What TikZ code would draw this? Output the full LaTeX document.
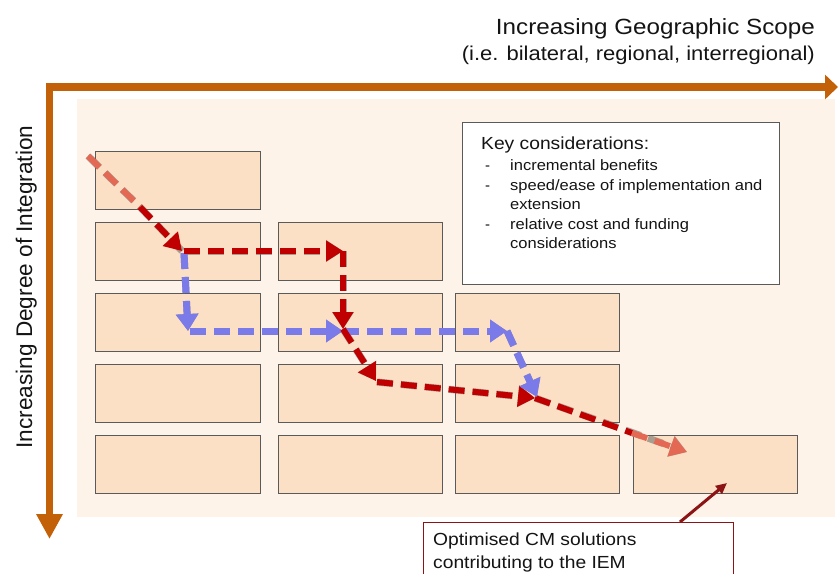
\documentclass[tikz,border=0pt]{standalone}
\usepackage{fontspec}
\usepackage{graphicx}
\setmainfont{Liberation Sans}
\usetikzlibrary{arrows.meta}
\definecolor{axisor}{RGB}{194,97,8}
\definecolor{bgpeach}{RGB}{253,243,232}
\definecolor{cellfill}{RGB}{252,224,197}
\definecolor{cellline}{RGB}{90,90,90}
\definecolor{pathred}{RGB}{192,0,0}
\definecolor{pathsalmon}{RGB}{228,105,85}
\definecolor{pathblue}{RGB}{122,122,232}
\definecolor{ptred}{RGB}{140,20,20}
\newcommand{\sx}[1]{\scalebox{1.1}[1]{#1}}
\tikzset{
  cell/.style={draw=cellline, fill=cellfill, line width=1pt, minimum width=164pt, minimum height=58pt, inner sep=0pt, anchor=north west},
  axisline/.style={draw=axisor, line width=7.5pt, line join=miter},
  dashseg/.style={line width=6pt, dash pattern=on 16pt off 8pt},
  redseg/.style={dashseg, draw=pathred, -{Triangle[length=17pt,width=20pt]}},
  salseg/.style={dashseg, draw=pathsalmon},
  blueseg/.style={dashseg, line width=7pt, draw=pathblue, -{Triangle[length=17pt,width=22pt]}},
  shadowseg/.style={dashseg, line width=7pt, draw=black!60, opacity=0.55, shift={(2,3)}, -{Triangle[length=17pt,width=21pt]}},
  shadowplain/.style={dashseg, line width=7pt, draw=black!60, opacity=0.55, shift={(2,3)}},
  keytxt/.style={anchor=base west, inner sep=0pt, font=\fontsize{15}{18}\selectfont, text=black!92},
}
\begin{document}
\begin{tikzpicture}[x=1pt,y=-1pt]
\useasboundingbox (0,0) rectangle (838,573);
\clip (0,0) rectangle (838,573);
% background panel
\fill[bgpeach] (77,99) rectangle (835,517);
% axes
\coordinate (origin) at (49.5,87);
\coordinate (xend) at (838,87);
\coordinate (yend) at (49.5,539);
\draw[axisline, {Triangle[length=25pt,width=25pt]}-{Triangle[length=13pt,width=24pt]}] (yend) -- (origin) -- (xend);
% axis labels
\node[anchor=base east, inner sep=0pt, font=\fontsize{22}{26}\selectfont, text=black!92] (xlab1) at (815,34) {\sx{Increasing Geographic Scope}};
\node[anchor=base east, inner sep=0pt, font=\fontsize{20}{24}\selectfont, text=black!92] (xlab2) at (815,60) {\sx{(i.e. bilateral, regional, interregional)}};
\node[anchor=base, rotate=90, inner sep=0pt, font=\fontsize{22.6}{26}\selectfont, text=black!92] (ylab) at (32,287) {Increasing Degree of Integration};
% cells
\node[cell, minimum width=165pt] (b11) at (95,151) {};
\node[cell, minimum width=165pt] (b21) at (95,222) {};
\node[cell] (b22) at (278,222) {};
\node[cell, minimum width=165pt] (b31) at (95,293) {};
\node[cell] (b32) at (278,293) {};
\node[cell] (b33) at (455,293) {};
\node[cell, minimum width=165pt] (b41) at (95,364) {};
\node[cell] (b42) at (278,364) {};
\node[cell] (b43) at (455,364) {};
\node[cell, minimum width=165pt] (b51) at (95,435) {};
\node[cell] (b52) at (278,435) {};
\node[cell] (b53) at (455,435) {};
\node[cell] (b54) at (633,435) {};
% key considerations box
\node[draw=cellline, fill=white, line width=1pt, minimum width=317pt, minimum height=162pt, inner sep=0pt, anchor=north west] (key) at (462,122) {};
\node[keytxt, font=\fontsize{17.5}{20}\selectfont] (kh) at (481,149) {\sx{Key considerations:}};
\node[keytxt] (kd1) at (485,170) {-};
\node[keytxt] (k1) at (510,170) {\sx{incremental benefits}};
\node[keytxt] (kd2) at (485,190) {-};
\node[keytxt] (k2) at (510,190) {\sx{speed/ease of implementation and}};
\node[keytxt] (k2b) at (510,209) {\sx{extension}};
\node[keytxt] (kd3) at (485,229) {-};
\node[keytxt] (k3) at (510,229) {\sx{relative cost and funding}};
\node[keytxt] (k3b) at (510,248) {\sx{considerations}};
% result box
\node[draw=ptred, fill=white, line width=1.2pt, minimum width=310pt, minimum height=90pt, inner sep=0pt, anchor=north west] (opt) at (423,522) {};
\node[keytxt, font=\fontsize{17.5}{20}\selectfont] (o1) at (433,545) {\sx{Optimised CM solutions}};
\node[keytxt, font=\fontsize{17.5}{20}\selectfont] (o2) at (433,568) {\sx{contributing to the IEM}};
\coordinate (pstart) at (680,522);
\coordinate (ptip) at (727,483);
\draw[ptred, line width=3pt, -{Triangle[length=11pt,width=10pt]}] (pstart) -- (ptip);
% path coordinates
\coordinate (p0) at (88,156);
\coordinate (p0m) at (140,207);
\coordinate (p1) at (182,251);
\coordinate (p1s) at (184,251);
\coordinate (p2) at (343,251);
\coordinate (p3) at (343,329);
\coordinate (p4) at (376,381);
\coordinate (p4s) at (377,382);
\coordinate (p5) at (535,398);
\coordinate (p5m) at (632,433);
\coordinate (p6) at (687,452);
\coordinate (q1) at (184,253);
\coordinate (q2) at (188,331);
\coordinate (q2s) at (190,331);
\coordinate (q3) at (343,331);
\coordinate (q4) at (507,331);
\coordinate (q5) at (537,397);
% shadows
\draw[shadowplain] (p0) -- (p0m);
\draw[shadowplain] (p0m) -- (p1);
\draw[shadowseg] (p1s) -- (p2);
\draw[shadowseg] (p2) -- (p3);
\draw[shadowseg] (p3) -- (p4);
\draw[shadowseg] (p4s) -- (p5);
\draw[shadowseg] (p5) -- (p6);
\draw[shadowseg] (q1) -- (q2);
\draw[shadowseg] (q2s) -- (q3);
\draw[shadowseg] (q3) -- (q4);
\draw[shadowseg] (q4) -- (q5);
% blue path
\draw[blueseg] (q1) -- (q2);
\draw[blueseg] (q2s) -- (q3);
\draw[blueseg] (q3) -- (q4);
% red path
\draw[salseg] (p0) -- (p0m);
\draw[redseg] (p0m) -- (p1);
\draw[redseg] (p1s) -- (p2);
\draw[redseg] (p2) -- (p3);
\draw[redseg] (p3) -- (p4);
\draw[redseg] (p4s) -- (p5);
\draw[dashseg, draw=pathred] (p5) -- (p5m);
\draw[dashseg, draw=pathsalmon, -{Triangle[length=17pt,width=20pt]}] (p5m) -- (p6);
\draw[blueseg] (q4) -- (q5);
\end{tikzpicture}
\end{document}
